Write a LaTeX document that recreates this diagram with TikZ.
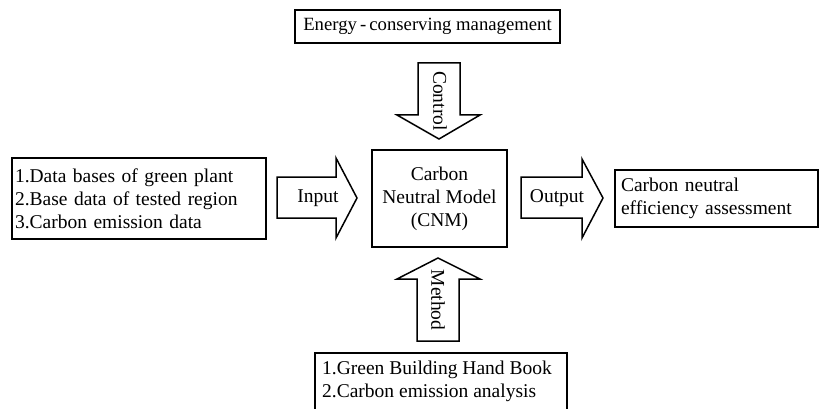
\documentclass[tikz,border=0pt]{standalone}
\usepackage{fontspec}
\setmainfont{Liberation Serif}
\tikzset{
  box/.style={draw, line width=1.6pt, inner xsep=3pt, inner ysep=0pt, font=\fontsize{19.5}{23}\selectfont},
  frame/.style={draw, line width=1.6pt},
  blockarrow/.style={draw, line width=1.5pt, line join=miter},
  lbl/.style={inner sep=0pt, font=\fontsize{19.5}{23}\selectfont}
}
\begin{document}
\begin{tikzpicture}[x=1pt,y=-1pt]
\clip (0,0) rectangle (819,409);
\node[box, minimum width=265, minimum height=33, font=\fontsize{18.7}{23}\selectfont] (mgmt) at (427.5,26.5){Energy\,-\,conserving management};
\node[box, minimum width=254, minimum height=81, text width=248, align=left] (data) at (139,198.5){1.Data bases of green plant\\2.Base data of tested region\\3.Carbon emission data};
\node[box, minimum width=135, minimum height=97, align=center] (cnm) at (439.5,198.5){Carbon\\Neutral Model\\(CNM)};
\node[box, minimum width=203, minimum height=57, text width=191, align=left, inner xsep=6pt] (assess) at (716.5,198.5){Carbon neutral\\efficiency assessment};
\node[lbl, anchor=north west, align=left] (book) at (322,361){1.Green Building Hand Book\\2.Carbon emission analysis};
\draw[frame] (315,430) rectangle (567,353);
% block arrows
\draw[blockarrow] (277,177) -- (336,177) -- (336,158) -- (357,198) -- (336,238) -- (336,218) -- (277,218) -- cycle;
\node[lbl] (input) at (318,198){Input};
\draw[blockarrow] (521,177) -- (582,177) -- (582,159) -- (603,198) -- (582,238) -- (582,218) -- (521,218) -- cycle;
\node[lbl] (output) at (557,198){Output};
\draw[blockarrow] (418,63) -- (460,63) -- (460,115) -- (480,115) -- (439,139) -- (397,115) -- (418,115) -- cycle;
\node[lbl, rotate=-90] (control) at (440,101){Control};
\draw[blockarrow] (417,341) -- (417,279) -- (397,279) -- (438,258) -- (480,279) -- (459,279) -- (459,341) -- cycle;
\node[lbl, rotate=-90] (method) at (438,300){Method};
\end{tikzpicture}
\end{document}
